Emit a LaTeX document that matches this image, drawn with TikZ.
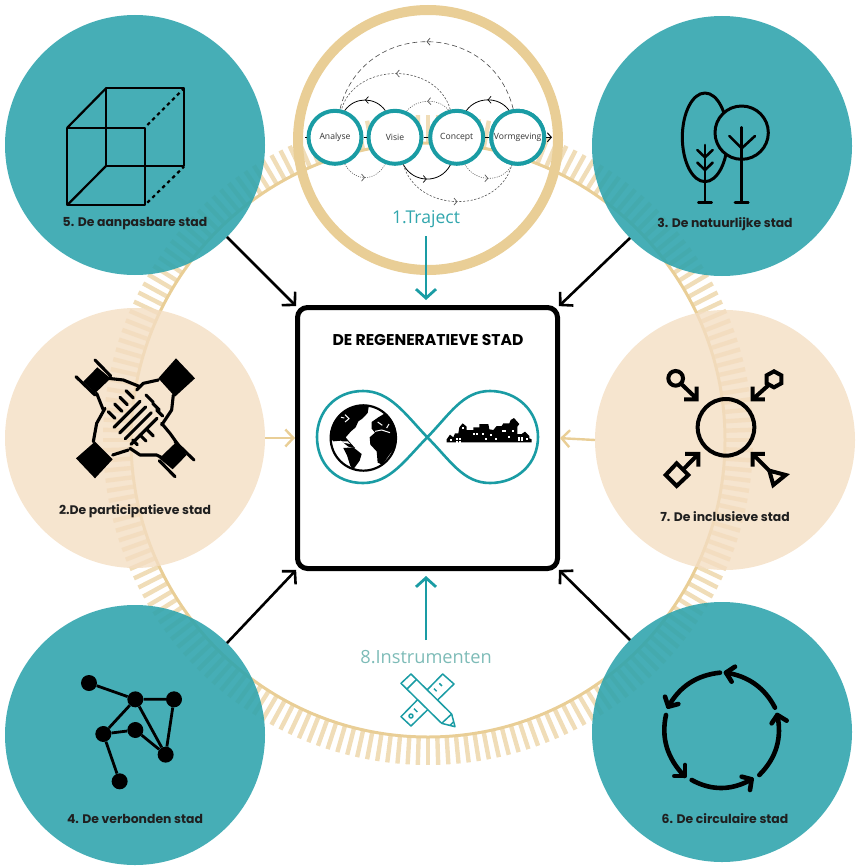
\documentclass[tikz,border=0pt]{standalone}
\usepackage{fontspec}
\setmainfont{Open Sans}
\newfontfamily\popfont{Poppins}
\usetikzlibrary{arrows.meta,decorations.markings}
\definecolor{tealA}{RGB}{50,165,174}
\definecolor{tealS}{RGB}{71,174,182}
\definecolor{tealD}{RGB}{26,156,164}
\definecolor{beigeA}{RGB}{244,222,195}
\definecolor{gold}{RGB}{233,206,150}
\definecolor{goldL}{RGB}{240,221,184}
\definecolor{instr}{RGB}{125,187,183}
\tikzset{
  bigc/.style={circle,minimum size=260pt,inner sep=0pt,outer sep=0pt},
  teald/.style={bigc,fill=tealA,fill opacity=.9},
  beiged/.style={bigc,fill=beigeA,fill opacity=.8},
  lab/.style={font=\popfont\fontsize{12.4pt}{14pt}\selectfont\bfseries,text=black!88,inner sep=0pt},
  toolc/.style={circle,draw=tealD,fill=white,line width=4pt,minimum size=53pt,inner sep=0pt,font=\fontsize{8.6pt}{10pt}\selectfont,text=black!80},
  blk/.style={draw=black,line width=2.6pt,-{Straight Barb[length=9pt,width=19pt]},shorten >=2pt},
  tl/.style={draw=tealD,line width=2.8pt,-{Straight Barb[length=9pt,width=20pt]}},
  bl/.style={draw=gold,line width=2.4pt,-{Straight Barb[length=8pt,width=17pt]}},
  flow/.style={postaction={decorate},decoration={markings,mark=at position .5 with {\arrow[solid,line width=.7pt]{Straight Barb[length=3pt,width=7pt]}}}},
  solidarc/.style={flow,draw=black,line width=.8pt},
  dasharc/.style={flow,draw=black!70,line width=.6pt,dash pattern=on 5pt off 3pt},
  shortarc/.style={flow,draw=black!65,line width=.6pt,dash pattern=on 2.2pt off 1.6pt},
  dotarc/.style={flow,draw=black!65,line width=.6pt,dash pattern=on 1pt off 1.3pt},
  icon/.style={line width=2.6pt,line cap=round,line join=round},
  netn/.style={circle,fill=black,minimum size=16pt,inner sep=0pt},
}
\begin{document}
\begin{tikzpicture}[x=1pt,y=-1pt]
\useasboundingbox (0,0) rectangle (855,867);
% big ring with ticks
\begin{scope}[shift={(428,440)}]
  \foreach \a in {0,1.8,...,358.3}
    \draw[goldL,line width=4.4pt] (\a:297) -- (\a:325);
  \draw[gold,line width=3pt] (0,0) circle[radius=297];
\end{scope}
% big circles
\node[teald] (c5) at (135,145) {};
\node[teald] (c3) at (722,146) {};
\node[beiged] (c2) at (135,438) {};
\node[beiged] (c7) at (725,440) {};
\node[teald] (c4) at (135,735) {};
\node[teald] (c6) at (722,732) {};
% labels
\node[lab] (l5) at (135,224) {5. De aanpasbare stad};
\node[lab] (l3) at (725,224) {3. De natuurlijke stad};
\node[lab] (l2) at (135,511) {2.De participatieve stad};
\node[lab] (l7) at (725,517) {7. De inclusieve stad};
\node[lab] (l4) at (135,819) {4. De verbonden stad};
\node[lab] (l6) at (725,819) {6. De circulaire stad};
% traject circle
\node[circle,draw=gold,line width=10pt,minimum size=260pt,inner sep=0pt,outer sep=0pt] (tr) at (428,140) {};
\coordinate (rowL) at (305,137.3);
\coordinate (rowR) at (552,137.3);
\node[toolc] (ana) at (335,137.3) {Analyse};
\node[toolc] (vis) at (395,137.3) {Visie};
\node[toolc] (con) at (456.7,137.3) {Concept};
\node[toolc] (vor) at (517.7,137.3) {Vormgeving};
\draw[line width=1pt] (rowL) -- (ana) (ana) -- (vis) (vis) -- (con) (con) -- (vor);
\draw[line width=1pt,-{Straight Barb[length=4pt,width=9pt]}] (vor) -- (rowR);
\node[toolc] at (vor) {Vormgeving};
\path[solidarc] (vis.110) .. controls +(-10,-14) and +(10,-14) .. (ana.70);
\path[solidarc] (vor.108) .. controls +(-10,-14) and +(10,-14) .. (con.70);
\path[dasharc] (vor.99) .. controls +(-22,-90) and +(22,-90) .. (ana.80);
\path[shortarc] (con.103) .. controls +(-14,-48) and +(14,-48) .. (ana.77);
\path[dotarc] (con.107) .. controls +(-10,-12.5) and +(10,-12.5) .. (vis.66);
\path[dotarc] (ana.-70) .. controls +(10,18) and +(-10,18) .. (vis.-110);
\path[solidarc] (vis.-73) .. controls +(10,19) and +(-10,19) .. (con.-103);
\path[dotarc] (con.-73) .. controls +(10,18) and +(-10,18) .. (vor.-102);
\path[shortarc] (vis.-73) .. controls +(14,49) and +(-14,49) .. (vor.-102);
\node[font=\fontsize{17.6pt}{20pt}\selectfont,text=tealD!90!white,inner sep=0pt] (traj) at (426,219) {1.Traject};
% central box
\node[draw=black,fill=white,line width=5pt,rounded corners=10pt,minimum width=260pt,minimum height=261pt,outer sep=0pt,inner sep=0pt] (box) at (427.5,438) {};
\node[font=\popfont\fontsize{15.6pt}{18pt}\selectfont\bfseries,text=black,inner sep=0pt] (title) at (428,340) {DE REGENERATIEVE STAD};
% connectors
\draw[blk] (c5.-45) -- (box.north west);
\draw[blk] (c3.225) -- (box.north east);
\draw[blk] (c4.45) -- (box.south west);
\draw[blk] (c6.135) -- (box.south east);
\draw[bl,shorten >=2.5pt] (c2.0) -- (box.west);
\draw[bl,shorten >=2.5pt] (c7.180) -- (box.east);
\coordinate (trs) at (426,236);
\coordinate (trt) at (426,300);
\draw[tl] (trs) -- (trt);
\coordinate (ins) at (426,640);
\coordinate (int) at (426,576);
\draw[tl] (ins) -- (int);
\node[font=\fontsize{18.2pt}{20pt}\selectfont,text=instr,inner sep=0pt] (instrlab) at (426,657) {8.Instrumenten};
% infinity
\draw[tealD,line width=2.6pt] (427.3,437.3) .. controls (405,414) and (390,391) .. (363,391)
  .. controls (335,391) and (317,412) .. (317,437)
  .. controls (317,463) and (335,483) .. (363,483)
  .. controls (390,483) and (405,460) .. (427.3,437.3)
  .. controls (450,414) and (463,391) .. (490,391)
  .. controls (518,391) and (538,412) .. (538,437)
  .. controls (538,463) and (518,483) .. (490,483)
  .. controls (463,483) and (450,460) .. (427.3,437.3) -- cycle;
% globe
\begin{scope}[shift={(325,398)},x=.3333pt,y=-.3333pt]
  \fill[white] (115,120) circle[radius=100];
  \begin{scope}
    \clip (115,120) circle[radius=100];
    \fill[black] (10,112) -- (28,62) -- (60,38) -- (100,18) -- (132,22) -- (128,45) -- (112,62) -- (100,70) -- (92,88) -- (78,100) -- (62,118) -- (72,130) -- (90,150) -- (70,146) -- (48,128) -- (25,130) -- cycle;
    \fill[black] (55,150) -- (85,148) -- (110,168) -- (104,188) -- (85,214) -- (76,204) -- (66,172) -- cycle;
    \fill[black] (140,72) -- (160,58) -- (180,46) -- (220,60) -- (225,130) -- (208,150) -- (192,172) -- (172,200) -- (158,194) -- (155,160) -- (136,140) -- (134,118) -- (150,104) -- (140,92) -- cycle;
    \draw[white,line width=1pt] (150,100) -- (170,96) -- (195,104);
    \draw[white,line width=1pt] (158,72) -- (172,82) (60,50) -- (72,62) -- (60,72) (48,58) -- (58,60);
    \draw[white,line width=1pt] (185,90) -- (192,78);
    \fill[white] (45,130) -- (68,130) -- (75,138) -- (55,134) -- cycle;
  \end{scope}
  \draw[black,line width=2.2pt] (115,120) circle[radius=98];
\end{scope}
% skyline
\begin{scope}[shift={(440,410)},x=.3333pt,y=-.3333pt]
  \fill[black] (20,97) -- (20,88) -- (30,74) -- (40,82) -- (45,70) -- (55,70) -- (58,52) -- (68,40) -- (80,50) -- (80,60) -- (100,60) -- (100,52) -- (118,52) -- (118,42) -- (145,42) -- (148,58) -- (160,60) -- (170,48) -- (185,48) -- (190,40) -- (208,40) -- (212,30) -- (222,24) -- (238,42) -- (232,50) -- (232,72) -- (245,72) -- (255,65) -- (268,78) -- (268,85) -- (275,88) -- (275,97) -- cycle;
  \foreach \x/\y in {48/84,56/84,100/68,108/68,185/60,193/60,235/80,243/80,235/88,243/88,125/70,150/72,66/52,48/92,56/92,205/78,30/88,135/84,165/84,215/60,258/84}
    \fill[white] (\x,\y) rectangle +(6,6);
\end{scope}
% cube
\begin{scope}[shift={(40,70)},x=.3333pt,y=-.3333pt,line width=2.2pt,line join=round]
  \draw (82,173) rectangle (315,405);
  \draw (198,55) rectangle (432,288);
  \draw (82,173) -- (198,55) (82,405) -- (198,288);
  \draw[dash pattern=on 3.5pt off 3.5pt] (322,165) -- (432,55) (322,398) -- (432,290);
\end{scope}
% trees
\begin{scope}[shift={(660,80)},x=.3333pt,y=-.3333pt,icon]
  \draw[line width=3pt] (135,172) ellipse[x radius=68,y radius=133];
  \draw[line width=3pt,fill=tealS] (245,158) circle[radius=80];
  \draw (245,142) -- (245,368) (225,368) -- (265,368);
  \draw (208,168) -- (245,205) -- (285,168);
  \draw (135,195) -- (135,368) (115,368) -- (155,368);
  \draw (112,210) -- (135,232) -- (158,210);
  \draw (112,248) -- (135,270) -- (158,248);
\end{scope}
% hands
\begin{scope}[shift={(40,340)},x=.3333pt,y=-.3333pt,line width=3.1pt,line cap=round,line join=round]
  \draw (108,110) -- (165,165) (165,60) -- (212,108);
  \fill (130,125) -- (172,82) -- (212,115) -- (165,160) -- cycle;
  \draw (462,360) -- (405,305) (405,410) -- (358,362);
  \fill (440,345) -- (398,388) -- (358,355) -- (405,310) -- cycle;
  \fill (408,55) -- (465,115) -- (405,170) -- (355,115) -- cycle;
  \fill (165,305) -- (218,358) -- (165,415) -- (108,355) -- cycle;
  \draw (205,115) -- (250,120) -- (300,140);
  \draw (170,160) -- (190,210);
  \draw (355,120) -- (310,130) -- (290,150);
  \draw (400,165) -- (395,210) -- (365,255);
  \draw (218,345) -- (265,330);
  \draw (160,305) -- (170,250) -- (195,205);
  \draw (380,360) -- (350,345) -- (300,345) -- (270,325);
  \draw (415,315) -- (390,280) -- (365,250);
  \foreach \k in {0,...,3}
    \draw ({222+\k*17},{262+\k*17}) -- ({300+\k*17},{184+\k*17});
  \draw (258,152) -- (280,174) (240,172) -- (262,194) (224,192) -- (246,214) (205,215) -- (225,235);
  \draw (318,165) -- (340,187) (338,190) -- (358,210) (350,210) -- (368,228);
  \draw (320,268) -- (340,288) (300,285) -- (318,303) (278,300) -- (292,314);
\end{scope}
% inclusive
\begin{scope}[shift={(640,350)},x=.3333pt,y=-.3333pt,line width=4pt,line join=miter]
  \draw (258,232) circle[radius=85];
  \draw (107,85) circle[radius=22];
  \draw (122,100) -- (170,146) (170,110) -- (170,148) -- (132,148);
  \draw (402,64) -- (424,76) -- (424,100) -- (402,112) -- (380,100) -- (380,76) -- cycle;
  \draw (385,106) -- (338,148) (338,110) -- (338,148) -- (375,148);
  \draw (110,340) -- (145,375) -- (110,408) -- (77,375) -- cycle;
  \draw (130,358) -- (175,312) (135,312) -- (175,312) -- (175,350);
  \draw (400,405) -- (437,375) -- (388,362) -- cycle;
  \draw (388,362) -- (338,312) (375,312) -- (338,312) -- (338,350);
\end{scope}
% network
\begin{scope}[shift={(60,660)},x=.3333pt,y=-.3333pt]
  \node[netn] (n0) at (87,69) {};
  \node[netn] (n1) at (226,118) {};
  \node[netn] (n2) at (342,118) {};
  \node[netn] (n3) at (130,222) {};
  \node[netn] (n4) at (226,210) {};
  \node[netn] (n5) at (317,284) {};
  \node[netn] (n6) at (179,364) {};
  \draw[line width=2.8pt] (n0) -- (n1) (n1) -- (n2) (n1) -- (n3) (n3) -- (n4) (n4) -- (n5) (n1) -- (n5) (n2) -- (n5) (n3) -- (n6);
\end{scope}
% cycle
\begin{scope}[shift={(640,660)},x=.3333pt,y=-.3333pt,line width=4.6pt,line cap=round,line join=round]
  \draw (240,38) .. controls (170.3,45.3) and (118.7,79.3) .. (85,140);
  \draw (75,110) -- (85,140) -- (115,132);
  \draw (78,165) .. controls (63,233.3) and (81.3,294.3) .. (133,348);
  \draw (103,348) -- (135,348) -- (135,315);
  \draw (155,360) .. controls (215,392.7) and (275,392) .. (335,358);
  \draw (305,350) -- (335,358) -- (330,390);
  \draw (358,345) .. controls (408.7,294.3) and (426.7,234.3) .. (412,165);
  \draw (395,190) -- (412,165) -- (440,182);
  \draw (405,143) .. controls (374,83.3) and (325,48.3) .. (258,38);
  \draw (285,20) -- (258,38) -- (275,65);
\end{scope}
% instruments
\begin{scope}[shift={(340,640)},x=.3333pt,y=-.3333pt,line width=1.5pt,draw=tealD,line join=round]
  \draw (183,230) -- (213,258) -- (342,132) -- (308,102) -- cycle;
  \draw (213,228) circle[radius=6];
  \draw (222,206) -- (232,216) (298,130) -- (306,138) (282,146) -- (290,154);
  \draw[fill=white] (183,130) -- (213,102) -- (335,222) -- (345,260) -- (305,250) -- cycle;
  \draw (200,148) -- (230,118);
  \draw (305,250) -- (335,222);
  \draw (330,256) -- (341,245);
\end{scope}
\end{tikzpicture}
\end{document}
